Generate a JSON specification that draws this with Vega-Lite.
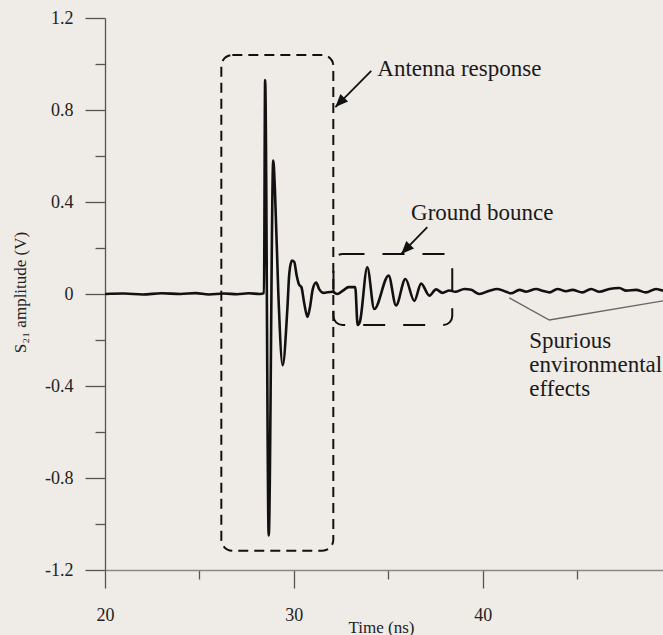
{
  "$schema": "https://vega.github.io/schema/vega-lite/v6.json",
  "width": 558,
  "height": 552,
  "autosize": {"type": "none"},
  "padding": {"left": 105, "top": 18, "right": 0, "bottom": 65},
  "background": "#efebe7",
  "config": {
    "view": {"stroke": null},
    "font": "Liberation Serif",
    "axis": {
      "grid": false,
      "labelFont": "Liberation Serif",
      "labelFontSize": 18,
      "labelColor": "#222222",
      "titleFont": "Liberation Serif",
      "titleFontSize": 17,
      "titleFontWeight": "normal",
      "titleColor": "#222222",
      "domainColor": "#555555",
      "domainWidth": 1.3,
      "tickColor": "#555555",
      "tickWidth": 1.3
    }
  },
  "datasets": {
    "signal": [
      {"t": 20.0, "v": 0.0},
      {"t": 21.0, "v": 0.002},
      {"t": 22.0, "v": -0.002},
      {"t": 23.0, "v": 0.003},
      {"t": 24.0, "v": 0.0},
      {"t": 24.8, "v": 0.004},
      {"t": 25.5, "v": -0.002},
      {"t": 26.3, "v": 0.002},
      {"t": 27.0, "v": -0.001},
      {"t": 27.6, "v": 0.003},
      {"t": 28.2, "v": 0.0},
      {"t": 28.42, "v": 0.004},
      {"t": 28.48, "v": 0.93},
      {"t": 28.67, "v": -1.05},
      {"t": 28.91, "v": 0.58},
      {"t": 29.0, "v": 0.45},
      {"t": 29.18, "v": 0.0},
      {"t": 29.41, "v": -0.31},
      {"t": 29.66, "v": -0.06},
      {"t": 29.76, "v": 0.09},
      {"t": 29.9, "v": 0.145},
      {"t": 30.02, "v": 0.14},
      {"t": 30.15, "v": 0.08},
      {"t": 30.28, "v": 0.04},
      {"t": 30.4, "v": 0.03},
      {"t": 30.55, "v": -0.04},
      {"t": 30.72, "v": -0.1},
      {"t": 30.85, "v": -0.06},
      {"t": 31.0, "v": 0.02},
      {"t": 31.18, "v": 0.05},
      {"t": 31.35, "v": 0.02},
      {"t": 31.55, "v": 0.005},
      {"t": 32.04, "v": 0.01},
      {"t": 32.3, "v": 0.0},
      {"t": 32.6, "v": 0.015},
      {"t": 32.9, "v": 0.03},
      {"t": 33.25, "v": 0.03},
      {"t": 33.38, "v": -0.135},
      {"t": 33.5, "v": -0.12},
      {"t": 33.89, "v": 0.116},
      {"t": 34.26, "v": -0.065},
      {"t": 35.02, "v": 0.08},
      {"t": 35.41, "v": -0.05},
      {"t": 35.91, "v": 0.065},
      {"t": 36.38, "v": -0.03},
      {"t": 36.74, "v": 0.045},
      {"t": 37.18, "v": -0.007},
      {"t": 37.53, "v": 0.02},
      {"t": 37.87, "v": 0.005},
      {"t": 38.24, "v": 0.015},
      {"t": 38.55, "v": 0.01},
      {"t": 39.03, "v": 0.022},
      {"t": 39.39, "v": 0.018},
      {"t": 39.83, "v": 0.0},
      {"t": 40.36, "v": 0.0145},
      {"t": 40.78, "v": 0.022},
      {"t": 41.24, "v": 0.01},
      {"t": 41.5, "v": 0.003},
      {"t": 41.95, "v": 0.018},
      {"t": 42.3, "v": 0.01},
      {"t": 42.83, "v": 0.022},
      {"t": 43.16, "v": 0.0145},
      {"t": 43.54, "v": 0.007},
      {"t": 43.96, "v": 0.022},
      {"t": 44.42, "v": 0.012},
      {"t": 44.75, "v": 0.018},
      {"t": 45.28, "v": 0.007},
      {"t": 45.74, "v": 0.022},
      {"t": 46.18, "v": 0.01},
      {"t": 46.71, "v": 0.022},
      {"t": 47.24, "v": 0.026},
      {"t": 47.6, "v": 0.0145},
      {"t": 48.12, "v": 0.018},
      {"t": 48.65, "v": 0.007},
      {"t": 49.18, "v": 0.022},
      {"t": 49.55, "v": 0.0145}
    ],
    "boxes": [
      {"region": "antenna", "t0": 26.16, "t1": 32.09, "v0": -1.116, "v1": 1.039},
      {"region": "ground", "t0": 32.1, "t1": 38.39, "v0": -0.135, "v1": 0.174}
    ],
    "arrows": [
      {"region": "antenna", "t0": 34.1, "v0": 0.97, "t1": 32.2, "v1": 0.813},
      {"region": "ground", "t0": 37.07, "v0": 0.291, "t1": 35.69, "v1": 0.174}
    ],
    "labels": [
      {"t": 34.42, "v": 0.948, "text": "Antenna response"},
      {"t": 36.21, "v": 0.322, "text": "Ground bounce"},
      {"t": 42.47, "v": -0.235, "text": "Spurious\nenvironmental\neffects"}
    ],
    "leader": [
      {"order": 1, "t": 41.41, "v": -0.017},
      {"order": 2, "t": 43.53, "v": -0.113},
      {"order": 3, "t": 49.55, "v": -0.03}
    ]
  },
  "layer": [
    {
      "data": {"name": "signal"},
      "mark": {"type": "line", "color": "#111111", "strokeWidth": 2.6, "strokeJoin": "round", "interpolate": "monotone", "clip": true},
      "encoding": {
        "x": {
          "field": "t",
          "type": "quantitative",
          "scale": {"domain": [20, 49.55], "nice": false, "zero": false},
          "axis": {
            "values": [20, 25, 30, 35, 40, 45],
            "labelExpr": "datum.value % 10 == 0 ? '' + datum.value : ''",
            "tickSize": {"condition": {"test": "datum.value % 10 == 0", "value": 18}, "value": 9},
            "labelPadding": 18,
            "labelFlush": false,
            "domainColor": "#888888",
            "title": "Time (ns)",
            "titleAnchor": "start",
            "titleAlign": "center",
            "titleBaseline": "alphabetic",
            "titleX": 276,
            "titleY": 62
          }
        },
        "y": {
          "field": "v",
          "type": "quantitative",
          "scale": {"domain": [-1.2, 1.2], "nice": false, "zero": false},
          "axis": {
            "values": [-1.2, -1, -0.8, -0.6, -0.4, -0.2, 0, 0.2, 0.4, 0.6, 0.8, 1, 1.2],
            "labelExpr": "abs(datum.value * 2.5 - round(datum.value * 2.5)) < 0.01 ? '' + datum.value : ''",
            "tickSize": {"condition": {"test": "abs(datum.value * 2.5 - round(datum.value * 2.5)) < 0.01", "value": 20}, "value": 10},
            "labelPadding": 12,
            "labelFlush": false,
            "title": "S₂₁ amplitude (V)",
            "titleAngle": -90,
            "titleAlign": "center",
            "titleBaseline": "middle",
            "titleX": -85,
            "titleY": 274
          }
        }
      }
    },
    {
      "data": {"name": "boxes"},
      "transform": [{"filter": "datum.region == 'antenna'"}],
      "mark": {"type": "rect", "fill": null, "filled": false, "stroke": "#111111", "strokeWidth": 2, "strokeDash": [10, 6], "cornerRadius": 11},
      "encoding": {
        "x": {"field": "t0", "type": "quantitative"},
        "x2": {"field": "t1"},
        "y": {"field": "v0", "type": "quantitative"},
        "y2": {"field": "v1"}
      }
    },
    {
      "data": {"name": "boxes"},
      "transform": [{"filter": "datum.region == 'ground'"}],
      "mark": {"type": "rect", "fill": null, "filled": false, "stroke": "#111111", "strokeWidth": 2, "strokeDash": [22, 18], "cornerRadius": 9},
      "encoding": {
        "x": {"field": "t0", "type": "quantitative"},
        "x2": {"field": "t1"},
        "y": {"field": "v0", "type": "quantitative"},
        "y2": {"field": "v1"}
      }
    },
    {
      "data": {"name": "arrows"},
      "mark": {"type": "rule", "color": "#111111", "strokeWidth": 1.8},
      "encoding": {
        "x": {"field": "t0", "type": "quantitative"},
        "y": {"field": "v0", "type": "quantitative"},
        "x2": {"field": "t1"},
        "y2": {"field": "v1"}
      }
    },
    {
      "data": {"name": "arrows"},
      "mark": {"type": "point", "shape": "M0,0L-0.42,1L0.42,1Z", "filled": true, "color": "#111111", "opacity": 1, "size": 650, "angle": 224},
      "encoding": {
        "x": {"field": "t1", "type": "quantitative"},
        "y": {"field": "v1", "type": "quantitative"}
      }
    },
    {
      "data": {"name": "leader"},
      "mark": {"type": "line", "color": "#666666", "strokeWidth": 1.3, "clip": true},
      "encoding": {
        "x": {"field": "t", "type": "quantitative"},
        "y": {"field": "v", "type": "quantitative"},
        "order": {"field": "order"}
      }
    },
    {
      "data": {"name": "labels"},
      "mark": {"type": "text", "align": "left", "baseline": "alphabetic", "font": "Liberation Serif", "fontSize": 23, "color": "#1a1a1a", "lineBreak": "\n", "lineHeight": 24},
      "encoding": {
        "x": {"field": "t", "type": "quantitative"},
        "y": {"field": "v", "type": "quantitative"},
        "text": {"field": "text"}
      }
    }
  ]
}
